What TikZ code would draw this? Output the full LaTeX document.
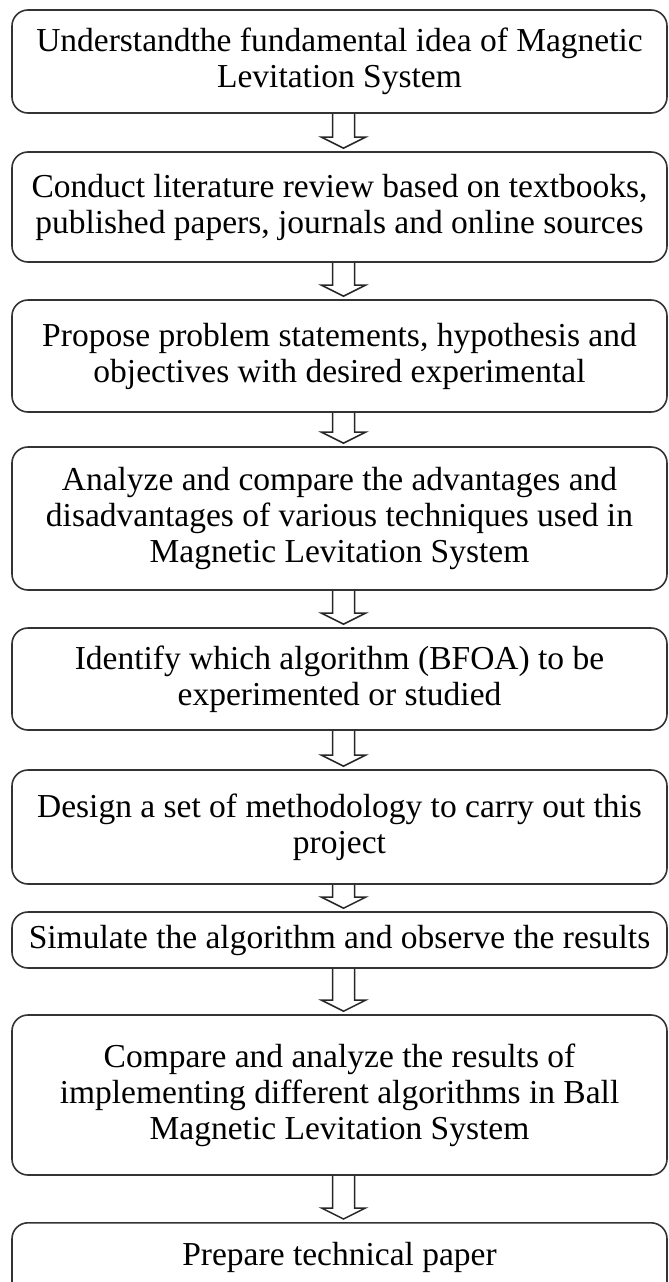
\documentclass[tikz,border=0pt]{standalone}
\usepackage{fontspec}
\setmainfont{Liberation Serif}
\usetikzlibrary{calc}
\begin{document}
\begin{tikzpicture}[x=1pt,y=1pt,
  stepbox/.style={draw=black!80, line width=1.6pt, rounded corners=16pt, minimum width=655pt, inner sep=0pt, align=center, font=\fontsize{33.5}{36}\selectfont},
  hollowarrow/.style={draw=black!85, line width=1.5pt, line join=miter}]
\useasboundingbox (0,0) rectangle (669,-1282);
\node[stepbox, minimum height=103pt] (b1) at (339.5,-61.5) {Understandthe fundamental idea of Magnetic\\Levitation System};
\node[stepbox, minimum height=110pt] (b2) at (339.5,-207) {Conduct literature review based on textbooks,\\published papers, journals and online sources};
\node[stepbox, minimum height=112pt] (b3) at (339.5,-356) {Propose problem statements, hypothesis and\\objectives with desired experimental};
\node[stepbox, minimum height=143pt] (b4) at (339.5,-518.5) {Analyze and compare the advantages and\\disadvantages of various techniques used in\\Magnetic Levitation System};
\node[stepbox, minimum height=102pt] (b5) at (339.5,-679) {Identify which algorithm (BFOA) to be\\experimented or studied};
\node[stepbox, minimum height=114pt] (b6) at (339.5,-827) {Design a set of methodology to carry out this\\project};
\node[stepbox, minimum height=56pt] (b7) at (339.5,-940) {Simulate the algorithm and observe the results};
\node[stepbox, minimum height=160pt] (b8) at (339.5,-1095) {Compare and analyze the results of\\implementing different algorithms in Ball\\Magnetic Levitation System};
\node[stepbox, anchor=north, align=none, text height=43pt, text depth=80pt] (b9) at (339.5,-1222) {Prepare technical paper};
\foreach \a/\b in {b1/b2,b2/b3,b3/b4,b4/b5,b5/b6,b6/b7,b7/b8,b8/b9}{
  \draw[hollowarrow] let \p1=(\a.south), \p2=(\b.north) in
    (\x1+4pt-11pt,\y1) -- (\x1+4pt-11pt,\y2+14pt) -- (\x1+4pt-22pt,\y2+14pt) -- (\x1+4pt,\y2+3pt) -- (\x1+4pt+22pt,\y2+14pt) -- (\x1+4pt+11pt,\y2+14pt) -- (\x1+4pt+11pt,\y1);
}
\end{tikzpicture}
\end{document}
